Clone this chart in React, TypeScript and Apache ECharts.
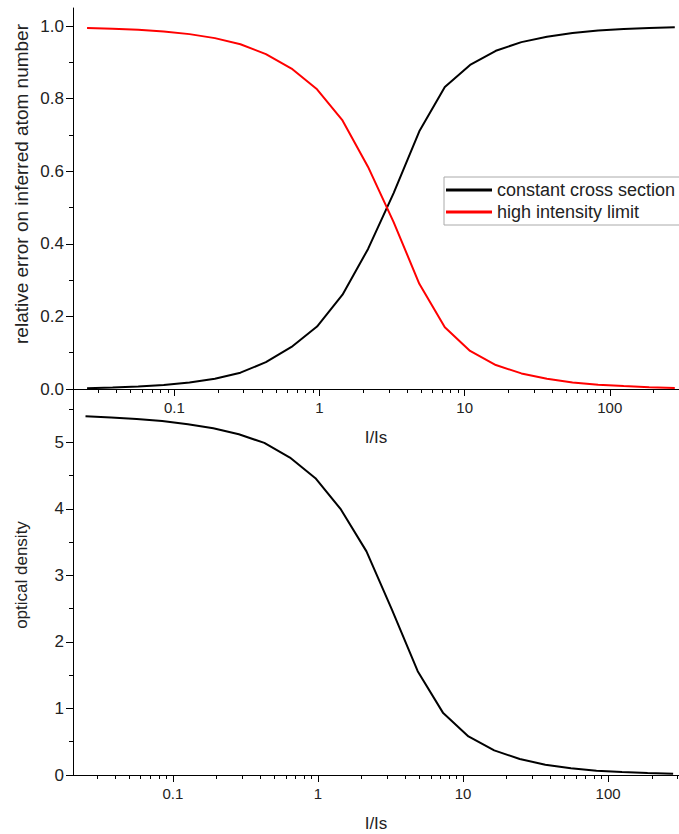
import React, { useEffect, useRef } from "react";
import * as echarts from "echarts";

// Saturation parameter I/Is at which the curves were evaluated
const intensity = [
  0.025, 0.0375, 0.0563, 0.0844, 0.127, 0.19, 0.285, 0.427, 0.641, 0.961, 1.44, 2.16,
  3.24, 4.87, 7.3, 10.9, 16.4, 24.6, 36.9, 55.4, 83.1, 124.7, 187.0, 280.6,
];

// Relative error on the inferred atom number
const constantCrossSection = [
  0.002, 0.004, 0.007, 0.011, 0.018, 0.028, 0.045, 0.074, 0.116, 0.172, 0.26, 0.386,
  0.54, 0.71, 0.832, 0.893, 0.932, 0.956, 0.971, 0.981, 0.988, 0.992, 0.995, 0.997,
];
const highIntensityLimit = [
  0.995, 0.993, 0.99, 0.985, 0.978, 0.967, 0.95, 0.923, 0.883, 0.826, 0.74, 0.612,
  0.46, 0.29, 0.17, 0.105, 0.066, 0.043, 0.028, 0.018, 0.012, 0.008, 0.005, 0.003,
];

// Optical density of the cloud
const opticalDensity = [
  5.39, 5.37, 5.35, 5.32, 5.27, 5.21, 5.12, 4.99, 4.77, 4.46, 3.99, 3.36,
  2.48, 1.56, 0.93, 0.58, 0.37, 0.24, 0.155, 0.1, 0.065, 0.045, 0.03, 0.02,
];

const seriesNames = ["constant cross section", "high intensity limit"];
const errorTitle = "relative error on inferred atom number";
const odTitle = "optical density";
const xTitle = "I/Is";

// Tick positions
const xMajorTicks = [0.1, 1, 10, 100];
const xDecades = [0.01, 0.1, 1, 10, 100];
const xMinorSteps = [2, 3, 4, 5, 6, 7, 8, 9];
const errorMajorTicks = [0, 0.2, 0.4, 0.6, 0.8, 1.0];
const errorMinorTicks = [0.1, 0.3, 0.5, 0.7, 0.9];
const odMajorTicks = [0, 1, 2, 3, 4, 5];
const odMinorTicks = [0.5, 1.5, 2.5, 3.5, 4.5, 5.5];

const FONT = "'Liberation Sans', Arial, Helvetica, sans-serif";
const INK = "#000";
const TEXT = "#222";

const pairs = (ys: number[]) => intensity.map((x, i) => [x, ys[i]]);

function buildMinorX(min: number, max: number) {
  const out: number[] = [];
  xDecades.forEach((d) =>
    xMinorSteps.forEach((m) => {
      const v = +(d * m).toPrecision(6);
      if (v > min && v < max) out.push(v);
    })
  );
  return out;
}

function xAxes(gridIndex: number, min: number, max: number) {
  const common = {
    type: "log",
    logBase: 10,
    gridIndex,
    min,
    max,
    position: "bottom",
    splitLine: { show: false },
    minorTick: { show: false },
  };
  return [
    {
      ...common,
      axisLine: { show: true, onZero: false, lineStyle: { color: INK, width: 1 } },
      axisTick: { show: true, inside: false, length: 7, customValues: xMajorTicks, lineStyle: { color: INK, width: 1 } },
      axisLabel: {
        show: true,
        customValues: xMajorTicks,
        margin: 11,
        fontSize: 15,
        fontFamily: FONT,
        color: TEXT,
        formatter: (v: number) => String(+(+v).toPrecision(6)),
      },
      name: xTitle,
      nameLocation: "middle",
      nameGap: 40,
      nameTextStyle: { fontSize: 17, fontFamily: FONT, color: TEXT },
    },
    {
      ...common,
      axisLine: { show: false },
      axisTick: { show: true, inside: false, length: 4, customValues: buildMinorX(min, max), lineStyle: { color: INK, width: 1 } },
      axisLabel: { show: false },
    },
  ];
}

// Main axis carries the labels and long ticks; the companion axis holds the
// short minor ticks.
function yAxes(gridIndex: number, max: number, major: number[], minor: number[], digits: number, title?: any) {
  const common = {
    type: "value",
    gridIndex,
    min: 0,
    max,
    position: "left",
    splitLine: { show: false },
  };
  return [
    {
      ...common,
      axisLine: { show: true, onZero: false, lineStyle: { color: INK, width: 1 } },
      axisTick: { show: true, inside: false, length: 7, customValues: major, lineStyle: { color: INK, width: 1 } },
      axisLabel: {
        show: true,
        customValues: major,
        margin: 9,
        fontSize: 17,
        fontFamily: FONT,
        color: TEXT,
        formatter: (v: number) => (+v).toFixed(digits),
      },
    },
    {
      ...common,
      axisLine: { show: false },
      axisTick: { show: true, inside: false, length: 4, customValues: minor, lineStyle: { color: INK, width: 1 } },
      axisLabel: { show: false },
      ...(title || {}),
    },
  ];
}

export default function App() {
  const ref = useRef<HTMLDivElement>(null);

  useEffect(() => {
    if (!ref.current) return;
    const chart = echarts.init(ref.current, undefined, { renderer: "svg" });

    const option = {
      animation: false,
      backgroundColor: "#fff",
      grid: [
        { left: 73, top: 8, width: 606, height: 381 },
        { left: 73, top: 389, width: 606, height: 386 },
      ],
      xAxis: [...xAxes(0, 0.02, 300), ...xAxes(1, 0.0205, 308)],
      yAxis: [
        ...yAxes(0, 1.05, errorMajorTicks, errorMinorTicks, 1, {
          name: errorTitle,
          nameLocation: "middle",
          nameGap: 42,
          nameTextStyle: { fontSize: 19, fontFamily: FONT, color: TEXT, padding: [0, 0, 0, 29] },
        }),
        ...yAxes(1, 5.8, odMajorTicks, odMinorTicks, 0),
      ],
      graphic: [
        {
          type: "text",
          x: 21,
          y: 575,
          rotation: Math.PI / 2,
          style: {
            text: odTitle,
            fontSize: 17,
            fontFamily: FONT,
            fill: TEXT,
            align: "center",
            verticalAlign: "middle",
          },
        },
      ],
      legend: {
        data: seriesNames,
        orient: "vertical",
        left: 444,
        top: 177,
        padding: [4, 12, 4, 2],
        icon: "rect",
        itemWidth: 46,
        itemHeight: 3,
        itemGap: 4,
        borderColor: "#aaa",
        borderWidth: 1,
        backgroundColor: "#fff",
        textStyle: { fontSize: 18, fontFamily: FONT, color: TEXT },
      },
      series: [
        {
          name: seriesNames[0],
          type: "line",
          xAxisIndex: 0,
          yAxisIndex: 0,
          data: pairs(constantCrossSection),
          symbol: "none",
          color: "#000",
          lineStyle: { color: "#000", width: 2 },
        },
        {
          name: seriesNames[1],
          type: "line",
          xAxisIndex: 0,
          yAxisIndex: 0,
          data: pairs(highIntensityLimit),
          symbol: "none",
          color: "#ff0000",
          lineStyle: { color: "#ff0000", width: 2 },
        },
        {
          name: "OD",
          type: "line",
          xAxisIndex: 2,
          yAxisIndex: 2,
          data: pairs(opticalDensity),
          symbol: "none",
          color: "#000",
          lineStyle: { color: "#000", width: 2 },
        },
      ],
    };

    chart.setOption(option as any);
    return () => chart.dispose();
  }, []);

  return (
    <div
      ref={ref}
      style={{ position: "absolute", left: 0, top: 0, width: 679, height: 834, background: "#fff" }}
    />
  );
}
